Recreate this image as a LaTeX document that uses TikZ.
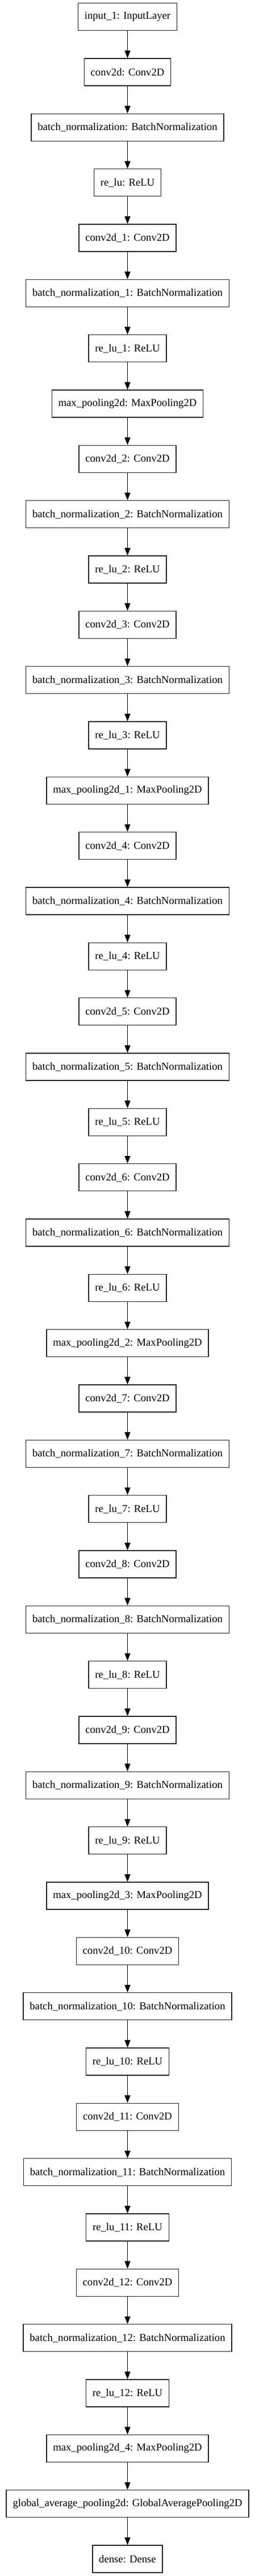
\documentclass[tikz,border=0pt]{standalone}
\usepackage{fontspec}
\setmainfont{Liberation Serif}
\usetikzlibrary{arrows.meta}
\begin{document}
\begin{tikzpicture}[x=1pt,y=1pt,
  layer/.style={draw=black!85, line width=1pt, rectangle, minimum height=36pt,
    inner xsep=8.5pt, inner ysep=0pt, font=\fontsize{14pt}{16pt}\selectfont, anchor=center},
  link/.style={-{Triangle[length=10pt,width=7.5pt]}, line width=1pt, black}]
\useasboundingbox (0,0) rectangle (336.75,-3402.75);
\foreach [count=\i] \t in {
  input\_1: InputLayer,
  conv2d: Conv2D,
  batch\_normalization: BatchNormalization,
  re\_lu: ReLU,
  conv2d\_1: Conv2D,
  batch\_normalization\_1: BatchNormalization,
  re\_lu\_1: ReLU,
  max\_pooling2d: MaxPooling2D,
  conv2d\_2: Conv2D,
  batch\_normalization\_2: BatchNormalization,
  re\_lu\_2: ReLU,
  conv2d\_3: Conv2D,
  batch\_normalization\_3: BatchNormalization,
  re\_lu\_3: ReLU,
  max\_pooling2d\_1: MaxPooling2D,
  conv2d\_4: Conv2D,
  batch\_normalization\_4: BatchNormalization,
  re\_lu\_4: ReLU,
  conv2d\_5: Conv2D,
  batch\_normalization\_5: BatchNormalization,
  re\_lu\_5: ReLU,
  conv2d\_6: Conv2D,
  batch\_normalization\_6: BatchNormalization,
  re\_lu\_6: ReLU,
  max\_pooling2d\_2: MaxPooling2D,
  conv2d\_7: Conv2D,
  batch\_normalization\_7: BatchNormalization,
  re\_lu\_7: ReLU,
  conv2d\_8: Conv2D,
  batch\_normalization\_8: BatchNormalization,
  re\_lu\_8: ReLU,
  conv2d\_9: Conv2D,
  batch\_normalization\_9: BatchNormalization,
  re\_lu\_9: ReLU,
  max\_pooling2d\_3: MaxPooling2D,
  conv2d\_10: Conv2D,
  batch\_normalization\_10: BatchNormalization,
  re\_lu\_10: ReLU,
  conv2d\_11: Conv2D,
  batch\_normalization\_11: BatchNormalization,
  re\_lu\_11: ReLU,
  conv2d\_12: Conv2D,
  batch\_normalization\_12: BatchNormalization,
  re\_lu\_12: ReLU,
  max\_pooling2d\_4: MaxPooling2D,
  global\_average\_pooling2d: GlobalAveragePooling2D,
  dense: Dense}
{
  \node[layer] (n\i) at (168.375, {-22.3-73*(\i-1)}) {\t};
}
\foreach \i [evaluate=\i as \j using int(\i+1)] in {1,...,46}
  \draw[link] (n\i) -- (n\j);
\end{tikzpicture}
\end{document}
